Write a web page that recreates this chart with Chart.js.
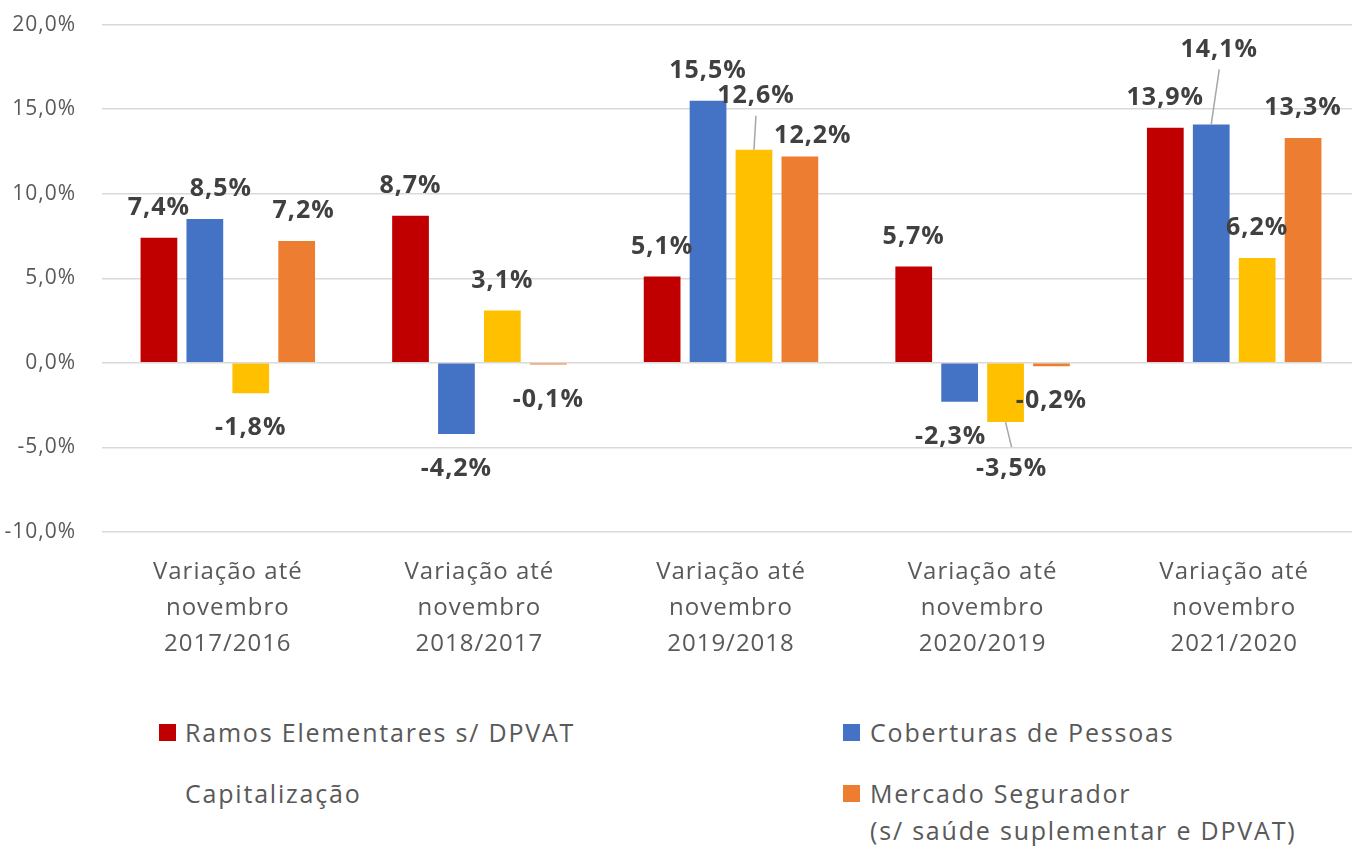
<!DOCTYPE html>
<html>
<head>
<meta charset="utf-8">
<script src="https://cdn.jsdelivr.net/npm/chart.js@4.4.1/dist/chart.umd.min.js"></script>
<style>
  html, body { margin: 0; padding: 0; background: #fff; overflow: hidden; }
  #wrap { position: relative; width: 1352px; height: 846px; overflow: hidden; }
  #box { position: absolute; left: 0; top: -14px; width: 1360px; height: 690px; }
  .leg { position: absolute; font-family: "Open Sans", sans-serif; font-size: 25px; letter-spacing: 1.8px; color: #595959; line-height: 37px; white-space: nowrap; }
  .mk { position: absolute; width: 17px; height: 17px; }
</style>
</head>
<body>
<div id="wrap">
  <div id="box"><canvas id="c" width="1360" height="690"></canvas></div>
  <div id="legend"></div>
</div>
<script>
const categories = [
  ["Variação até", "novembro", "2017/2016"],
  ["Variação até", "novembro", "2018/2017"],
  ["Variação até", "novembro", "2019/2018"],
  ["Variação até", "novembro", "2020/2019"],
  ["Variação até", "novembro", "2021/2020"]
];
const seriesNames = [
  "Ramos Elementares s/ DPVAT",
  "Coberturas de Pessoas",
  "Capitalização",
  ["Mercado Segurador", "(s/ saúde suplementar e DPVAT)"]
];
const ramosElementares = [7.4, 8.7, 5.1, 5.7, 13.9];
const coberturasPessoas = [8.5, -4.2, 15.5, -2.3, 14.1];
const capitalizacao = [-1.8, 3.1, 12.6, -3.5, 6.2];
const mercadoSegurador = [7.2, -0.1, 12.2, -0.2, 13.3];
const yTicks = [-10, -5, 0, 5, 10, 15, 20];

const colors = ["#C00000", "#4472C4", "#FFC000", "#ED7D31"];
// label nudges (dx, dy, leader) per dataset per category
const labelNudge = [
  [[0,0],[0,0],[0,0],[0,0],[0,0]],
  [[16,0],[0,0],[0,0],[-9,0],[8,-45,true]],
  [[0,0],[0,0],[2,-24,true],[6,12,true],[0,0]],
  [[7,0],[0,0],[13,9],[0,0],[0,0]]
];

const fmt = v => v.toFixed(1).replace('.', ',') + '%';

const spacingPlugin = {
  id: 'spacing',
  beforeDraw(chart) { chart.ctx.letterSpacing = '1px'; },
  afterDraw(chart) { chart.ctx.letterSpacing = '0px'; }
};

const labelPlugin = {
  id: 'barLabels',
  afterDatasetsDraw(chart) {
    const ctx = chart.ctx;
    ctx.save();
    ctx.font = 'bold 25px "Open Sans", sans-serif';
    ctx.letterSpacing = '1px';
    ctx.fillStyle = '#404040';
    ctx.textAlign = 'center';
    ctx.textBaseline = 'middle';
    chart.data.datasets.forEach((ds, i) => {
      const meta = chart.getDatasetMeta(i);
      meta.data.forEach((el, j) => {
        const v = ds.data[j];
        const n = labelNudge[i][j];
        const cx = el.x + n[0];
        const cy = (v >= 0 ? el.y - 30 : el.y + 35) + n[1];
        if (n[2]) {
          ctx.save();
          ctx.strokeStyle = '#A6A6A6';
          ctx.lineWidth = 1.5;
          ctx.beginPath();
          ctx.moveTo(el.x, el.y);
          ctx.lineTo(cx, v >= 0 ? cy + 20 : cy - 22);
          ctx.stroke();
          ctx.restore();
        }
        ctx.fillText(fmt(v), cx, cy);
      });
    });
    ctx.restore();
  }
};

const chart = new Chart(document.getElementById('c'), {
  type: 'bar',
  data: {
    labels: categories,
    datasets: [
      { label: "Ramos Elementares s/ DPVAT", data: ramosElementares, backgroundColor: colors[0] },
      { label: "Coberturas de Pessoas", data: coberturasPessoas, backgroundColor: colors[1] },
      { label: "Capitalização", data: capitalizacao, backgroundColor: colors[2] },
      { label: "Mercado Segurador (s/ saúde suplementar e DPVAT)", data: mercadoSegurador, backgroundColor: colors[3] }
    ]
  },
  options: {
    responsive: false,
    animation: false,
    categoryPercentage: 0.73,
    barPercentage: 0.8,
    layout: { padding: { top: 12, right: 0, left: 0, bottom: 0 } },
    plugins: { legend: { display: false }, tooltip: { enabled: false } },
    scales: {
      x: {
        grid: { display: false },
        border: { display: false },
        ticks: {
          color: '#595959',
          font: { family: '"Open Sans", sans-serif', size: 24, lineHeight: 1.5 },
          padding: 14,
          maxRotation: 0
        }
      },
      y: {
        min: -10, max: 20,
        afterBuildTicks(axis) { axis.ticks = yTicks.map(v => ({ value: v })); },
        afterFit(axis) { axis.width = 102; },
        grid: { color: '#D9D9D9', lineWidth: 1.5, drawTicks: false },
        border: { display: false },
        ticks: {
          color: '#595959',
          padding: 26,
          font: { family: '"Open Sans", sans-serif', size: 21 },
          callback: v => v.toFixed(1).replace('.', ',') + '%'
        }
      }
    }
  },
  plugins: [spacingPlugin, labelPlugin]
});

// HTML legend built from series names/colors
const legendSpots = [
  { mx: 159, my: 724, tx: 185, ty: 714, marker: true },
  { mx: 843, my: 724, tx: 870, ty: 714, marker: true },
  { mx: 159, my: 785, tx: 185, ty: 775, marker: false },
  { mx: 843, my: 785, tx: 870, ty: 775, marker: true }
];
const legendEl = document.getElementById('legend');
seriesNames.forEach((name, i) => {
  const s = legendSpots[i];
  if (s.marker) {
    const m = document.createElement('div');
    m.className = 'mk';
    m.style.left = s.mx + 'px'; m.style.top = s.my + 'px';
    m.style.background = colors[i];
    legendEl.appendChild(m);
  }
  const t = document.createElement('div');
  t.className = 'leg';
  t.style.left = s.tx + 'px'; t.style.top = s.ty + 'px';
  t.innerHTML = (Array.isArray(name) ? name : [name]).join('<br>');
  legendEl.appendChild(t);
});
</script>
</body>
</html>
